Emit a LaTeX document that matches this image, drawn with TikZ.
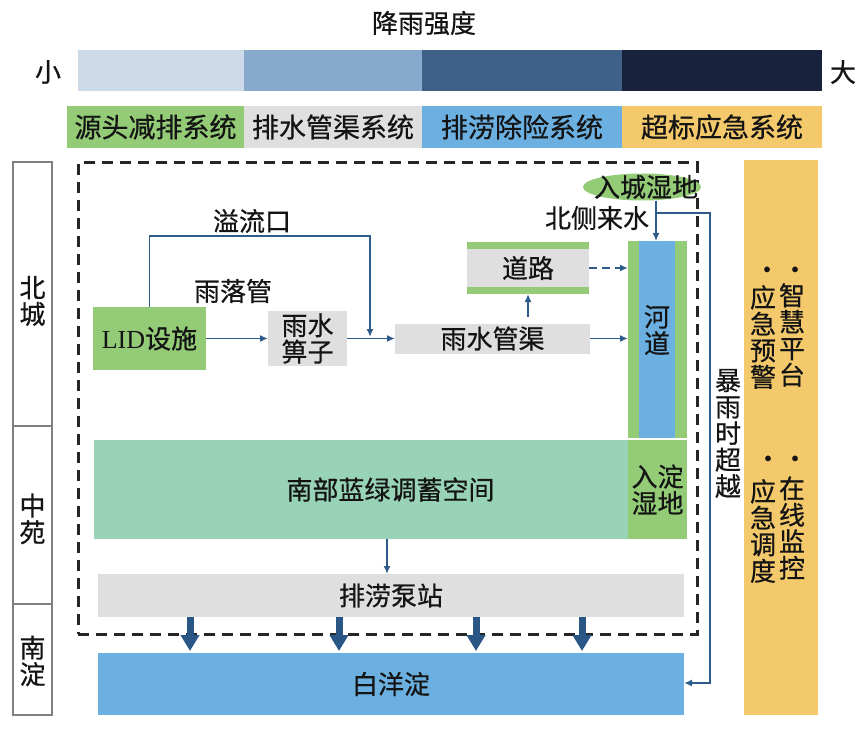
\documentclass[tikz,border=0pt]{standalone}
\usepackage{fontspec}
\setmainfont{Noto Sans CJK SC}[FakeBold=0.6]
\newfontfamily\lidfont{Liberation Serif}
\usetikzlibrary{arrows.meta,shapes.geometric,backgrounds}
\definecolor{barA}{HTML}{CDDBE9}
\definecolor{barB}{HTML}{87A9CB}
\definecolor{barC}{HTML}{3F6189}
\definecolor{barD}{HTML}{19223D}
\definecolor{cgreen}{HTML}{93CB77}
\definecolor{cgray}{HTML}{E0DFE0}
\definecolor{cblue}{HTML}{6BB0E0}
\definecolor{cyellow}{HTML}{F4C96C}
\definecolor{cteal}{HTML}{99D3B7}
\definecolor{carrow}{HTML}{2E5C8A}
\definecolor{cthick}{HTML}{2A5686}
\definecolor{ctext}{HTML}{141414}
\definecolor{czone}{HTML}{808080}
\newcommand\mylbl{\fontsize{26}{26.5}\selectfont}
\newcommand\mysys{\fontsize{27}{27}\selectfont}
\begin{document}
\begin{tikzpicture}[x=1pt,y=-1pt,
  lbl/.style={font=\mylbl, text=ctext, inner sep=0pt, align=center},
  box/.style={lbl, draw=none, outer sep=0pt},
  sysbox/.style={box, font=\mysys, minimum height=42},
  zone/.style={box, draw=czone, line width=1.5pt, fill=white, minimum width=39},
  frame/.style={draw=black!85, line width=3pt, dash pattern=on 11pt off 7pt, inner sep=0pt},
  flow/.style={draw=carrow, line width=1.6pt, -{Latex[length=8pt,width=7pt]}},
  dflow/.style={flow, dash pattern=on 8pt off 5pt},
  bigflow/.style={draw=cthick, line width=7pt, -{Triangle[length=16pt,width=18pt]}, shorten >=2pt}
]
\useasboundingbox (0,0) rectangle (865,738);

% intensity scale
\node[lbl] (title) at (424,23) {降雨强度};
\node[lbl] (small) at (48,72) {小};
\node[lbl] (large) at (843,72) {大};
\node[box, fill=barA, minimum width=166, minimum height=41] (bar1) at (161,70.5) {};
\node[box, fill=barB, minimum width=178, minimum height=41] (bar2) at (333,70.5) {};
\node[box, fill=barC, minimum width=200, minimum height=41] (bar3) at (522,70.5) {};
\node[box, fill=barD, minimum width=200, minimum height=41] (bar4) at (722,70.5) {};

% systems
\node[sysbox, fill=cgreen, minimum width=177] (sys1) at (155.5,127) {源头减排系统};
\node[sysbox, fill=cgray, minimum width=178] (sys2) at (333,127) {排水管渠系统};
\node[sysbox, fill=cblue, minimum width=200] (sys3) at (522,127) {排涝除险系统};
\node[sysbox, fill=cyellow, minimum width=200] (sys4) at (722,127) {超标应急系统};

% zones
\node[zone, minimum height=264] (zn) at (32.5,294) {};
\node[zone, minimum height=178] (zm) at (32.5,515) {};
\node[zone, minimum height=111] (zs) at (32.5,659.5) {};
\node[lbl] (znt) at (32.5,301) {北\\城};
\node[lbl] (zmt) at (32.5,519) {中\\苑};
\node[lbl] (zst) at (32.5,661) {南\\淀};

% north part
\node[box, fill=cgreen, minimum width=113, minimum height=63] (lid) at (149.5,338.5) {{\lidfont LID}设施};
\node[box, fill=cgray, minimum width=79, minimum height=55] (grate) at (307.5,338.5) {雨水\\箅子};
\node[box, fill=cgray, minimum width=195, minimum height=30] (pipe) at (492.5,338.5) {雨水管渠};
\node[box, fill=cgray, minimum width=122, minimum height=52] (road) at (528,268) {道路};
\fill[cgreen] (road.north west) rectangle ([yshift=-7pt]road.north east);
\fill[cgreen] ([yshift=7pt]road.south west) rectangle (road.south east);
\node[box, fill=cgreen, minimum width=59, minimum height=197] (river) at (657.5,339.5) {};
\fill[cblue] ([xshift=11pt]river.north west) rectangle ([xshift=-12pt]river.south east);
\node[lbl] (rivert) at (657,330) {河\\道};
\node[ellipse, fill=cgreen, inner sep=0pt, minimum width=118, minimum height=27] (wetn) at (642,187) {};
\node[lbl] (wetnt) at (646,187) {入城湿地};
\node[lbl] (ovlbl) at (252,221) {溢流口};
\node[lbl] (dplbl) at (233,291) {雨落管};
\node[lbl] (nlbl) at (597,218) {北侧来水};

% middle and south
\node[box, fill=cteal, minimum width=593, minimum height=99] (south) at (390.5,489.5) {南部蓝绿调蓄空间};
\node[box, fill=cgreen, minimum width=59, minimum height=99] (wets) at (657.5,489.5) {入淀\\湿地};
\node[box, fill=cgray, minimum width=586, minimum height=43] (pump) at (391,595.5) {排涝泵站};
\node[box, fill=cblue, minimum width=586, minimum height=62] (bai) at (391,684) {白洋淀};

% emergency panel
\node[box, fill=cyellow, minimum width=74, minimum height=555] (panel) at (781,437.5) {};
\node[lbl] (d1) at (767,273) {•};
\node[lbl] (d2) at (795,273) {•};
\node[lbl] (d3) at (768,462) {•};
\node[lbl] (d4) at (795,462) {•};
\node[lbl] (c1) at (763,337) {应\\急\\预\\警};
\node[lbl] (c2) at (792,335) {智\\慧\\平\\台};
\node[lbl] (c3) at (763,531) {应\\急\\调\\度};
\node[lbl] (c4) at (792,528) {在\\线\\监\\控};
\node[lbl] (stormt) at (728,433.5) {暴\\雨\\时\\超\\越};

\coordinate (ovtop) at (370,236);
\coordinate (ovbot) at (370,337);
\coordinate (nin) at (656,213);
\coordinate (ovr) at (710,683);
\coordinate (ax) at (387,556);

\begin{scope}[on background layer]
\node[frame, minimum width=619, minimum height=471] (frm) at (387.5,398.5) {};
\draw[flow] (lid) -- (grate);
\draw[flow] (grate) -- (pipe);
\draw[flow] (lid.north) |- (ovtop) -- (ovbot);
\draw[flow, shorten <=7pt] (pipe.north -| road.south) -- (road.south);
\draw[flow] (pipe.east) -- (pipe.east -| river.west);
\draw[dflow] (road.east) -- (road.east -| river.west);
\draw[flow] (nin |- wetn.south) -- (nin |- river.north);
\draw[flow] (nin) -| (ovr) -- (ovr -| bai.east);
\draw[flow] (ax |- south.south) -- (ax |- pump.north);
\foreach \x in {190,339,476,582}
  \draw[bigflow] (\x,0 |- pump.south) -- (\x,0 |- bai.north);
\end{scope}
\end{tikzpicture}
\end{document}
